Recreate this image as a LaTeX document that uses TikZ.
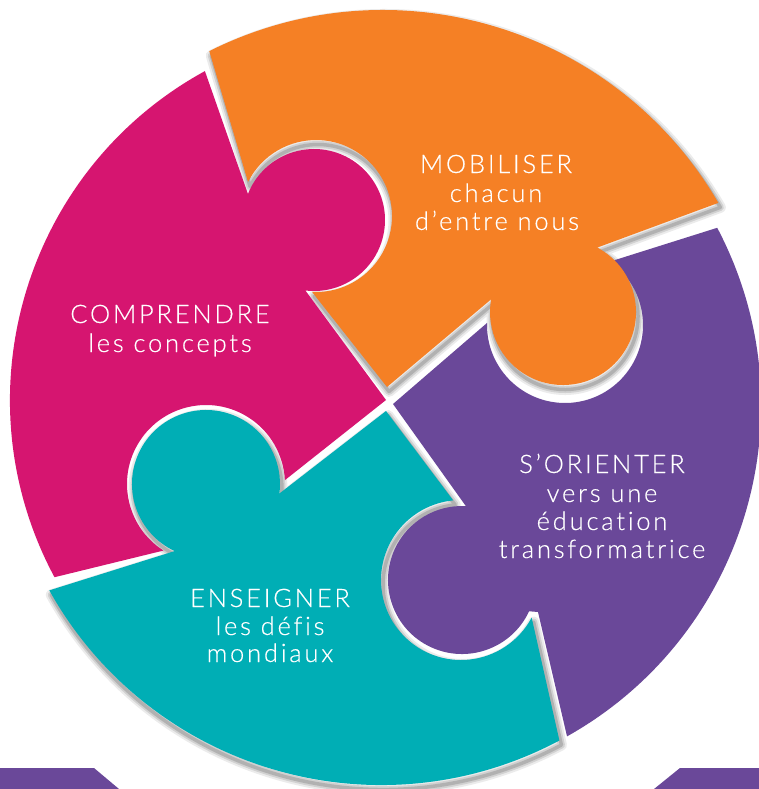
\documentclass[tikz,border=0pt]{standalone}
\usepackage{fontspec}
\IfFontExistsTF{Lato Light}{\setmainfont{Lato Light}[LetterSpace=11,Ligatures=NoCommon,FakeBold=0.4]}{\setmainfont{Lato}[LetterSpace=10,Ligatures=NoCommon]}
\usetikzlibrary{calc}
\definecolor{cmag}{RGB}{214,21,112}
\definecolor{corg}{RGB}{245,128,37}
\definecolor{cpur}{RGB}{106,72,153}
\definecolor{ctea}{RGB}{0,174,181}
\def\PM{(204.9,71.1) arc[start angle=241.3,end angle=151.8,radius=375] -- ($(206,484)+(122.6:79)$) arc[start angle=122.6,end angle=357.2,radius=79] -- (386,400) -- ($(314,220)+(97:71)$) arc[start angle=97,end angle=-158.5,radius=71] -- cycle}
\def\PO{(209.3,51.1) arc[start angle=243.4,end angle=329.8,radius=388] -- ($(563,312)+(-62:73)$) arc[start angle=-62,end angle=190,radius=73] -- (387,387) -- ($(316,216)+(93:76)$) arc[start angle=93,end angle=-153.4,radius=76] -- cycle}
\def\PP{(717.2,227.8) arc[start angle=-27.8,end angle=60.7,radius=380] -- (538,612) -- ($(462,580)+(25:74)$) arc[start angle=25,end angle=273,radius=74] -- (393,404) -- ($(565,325)+(181.5:78)$) arc[start angle=181.5,end angle=-54.5,radius=78] -- cycle}
\def\PT{(559.4,740.5) arc[start angle=62,end angle=150.8,radius=380] -- ($(206,484)+(115:74)$) arc[start angle=115,end angle=367.4,radius=74] -- (386,411) -- ($(461,580)+(264.4:80)$) arc[start angle=264.4,end angle=28,radius=80] -- cycle}
\begin{document}
\begin{tikzpicture}[x=1pt,y=-1pt,
  lbl/.style={text=white,font=\fontsize{25.5}{30}\selectfont,anchor=base,inner sep=0pt},
  shade/.style={draw=black,line join=round,shift={(2,4.5)}}]
\useasboundingbox (0,0) rectangle (759,789);
\clip (0,0) rectangle (759,789);
\fill[white] (0,0) rectangle (759,789);
% soft shadows of the raised pieces
\foreach \w/\o in {11/0.08,7/0.11,3.5/0.15}{
  \draw[shade,line width=\w,opacity=\o] \PT;
  \draw[shade,line width=\w,opacity=\o] \PO;
}
% lower pieces
\fill[cmag] \PM;
\fill[cpur] \PP;
% raised pieces
\fill[ctea] \PT;
\fill[corg] \PO;
% bottom bar
\fill[cpur] (0,768) -- (94,768) -- (119,789) -- (0,789) -- cycle;
\fill[cpur] (680,768) -- (759,768) -- (759,789) -- (654,789) -- cycle;
% labels
\node[lbl] (m1) at (170,323) {COMPRENDRE};
\node[lbl] (m2) at (170,352) {les concepts};
\node[lbl] (o1) at (496,173) {MOBILISER};
\node[lbl] (o2) at (496,202) {chacun};
\node[lbl] (o3) at (497,230) {d’entre nous};
\node[lbl] (p1) at (602,473) {S’ORIENTER};
\node[lbl] (p2) at (602,502) {vers une};
\node[lbl] (p3) at (602,530) {éducation};
\node[lbl] (p4) at (602,558) {transformatrice};
\node[lbl] (t1) at (270,607) {ENSEIGNER};
\node[lbl] (t2) at (270,635) {les défis};
\node[lbl] (t3) at (270,662) {mondiaux};
\end{tikzpicture}
\end{document}
